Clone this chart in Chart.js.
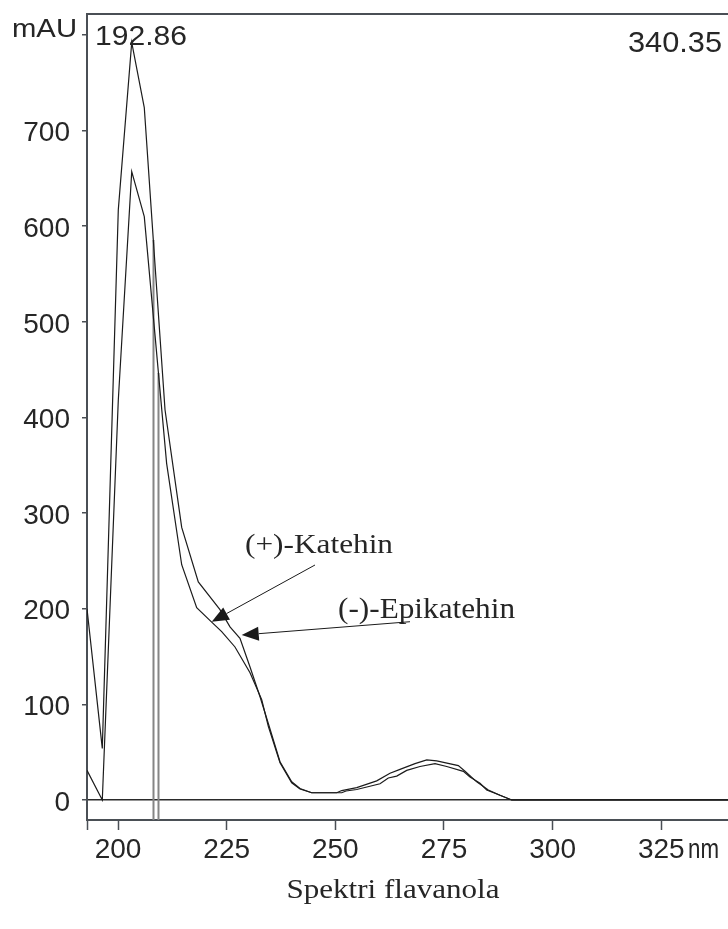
<!DOCTYPE html>
<html><head><meta charset="utf-8">
<script src="https://cdn.jsdelivr.net/npm/chart.js@4"></script>
<style>html,body{margin:0;padding:0;background:#fff;overflow:hidden}#wrap{width:728px;height:929px;position:relative}</style>
</head><body><div id="wrap"><canvas id="c" width="728" height="929"></canvas></div>
<script>
// ---- data ----
const epiNm  = [192.86,196.38,200.06,203.15,206.04,208.11,210.81,214.65,218.47,223.46,225.76,228.06,230.37,232.67,234.58,237.27,239.96,241.87,244.56,250.32,251.47,254.92,259.52,262.58,264.88,268.33,271.03,273.33,278.30,279.84,282.53,285.20,287.89,290.58,340.35];
const epiVal = [200,54,617,792,724,586,408,285,228,199,181,169,139,108,80,40,19,12,7.6,7.6,9.9,13,20,28,32,38,42,41,36,30,19,10.5,5,0,0];
const katNm  = [192.86,196.38,200.06,203.15,206.04,211.18,214.65,218.10,221.55,223.85,226.91,230.37,233.06,234.58,237.27,239.96,241.87,244.56,251.47,252.46,254.92,260.28,262.19,264.12,266.42,269.48,272.94,275.63,279.45,280.99,283.29,284.83,287.89,290.58,340.35];
const katVal = [31,0,418,657,610,352,246,201,186,176,160,133,105,77,39,18,11.5,7.6,7.6,9.4,11,17,23,25,31,35,38,35,30,24,17.5,10.5,5,0,0];
const markerNm  = [208.16, 209.31];
const markerTop = [585.5, 446.5];
const xTicks = [192.86,200,225,250,275,300,325];
const yTicks = [0,100,200,300,400,500,600,700,800];
const xRange = [192.86, 340.35];
const yRange = [-20.9, 821.8];
const xUnit = 'nm', yUnit = 'mAU';
const title = 'Spektri flavanola';
const seriesNames = ['(-)-Epikatehin','(+)-Katehin'];

const zip = (xs, ys) => xs.map((x, i) => ({x, y: ys[i]}));
const AX = '#4a4f55', TXT = '#262626';

function stretchText(ctx, text, font, x, y, align, targetW) {
  ctx.font = font;
  const w = ctx.measureText(text).width;
  const sx = targetW ? targetW / w : 1;
  ctx.save();
  ctx.translate(x, y);
  ctx.scale(sx, 1);
  ctx.textAlign = 'left';
  ctx.textBaseline = 'alphabetic';
  ctx.fillStyle = TXT;
  const x0 = align === 'right' ? -w : (align === 'center' ? -w / 2 : 0);
  ctx.fillText(text, x0, 0);
  ctx.restore();
}
function arrow(ctx, x1, y1, x2, y2) {
  const dx = x2 - x1, dy = y2 - y1, L = Math.hypot(dx, dy);
  const ux = dx / L, uy = dy / L, hl = 17, hw = 7;
  const bx = x2 - ux * hl, by = y2 - uy * hl;
  ctx.save();
  ctx.strokeStyle = '#1a1a1a'; ctx.fillStyle = '#1a1a1a'; ctx.lineWidth = 1;
  ctx.beginPath(); ctx.moveTo(x1, y1); ctx.lineTo(bx, by); ctx.stroke();
  ctx.beginPath(); ctx.moveTo(x2, y2);
  ctx.lineTo(bx - uy * hw, by + ux * hw);
  ctx.lineTo(bx + uy * hw, by - ux * hw);
  ctx.closePath(); ctx.fill();
  ctx.restore();
}

const decor = {
  id: 'decor',
  afterDraw(chart) {
    const {ctx, chartArea: a, scales: {x, y}} = chart;
    ctx.save();
    ctx.strokeStyle = AX; ctx.lineWidth = 2;
    ctx.beginPath(); ctx.moveTo(a.left - 1, a.top); ctx.lineTo(a.right, a.top); ctx.stroke();
    ctx.restore();
    stretchText(ctx, yUnit, '26px "Liberation Sans", Arial, sans-serif', 12, 37, 'left', 65);
    stretchText(ctx, xRange[0].toFixed(2), '28px "Liberation Sans", Arial, sans-serif', a.left + 8, 45, 'left', 92);
    stretchText(ctx, xRange[1].toFixed(2), '29px "Liberation Sans", Arial, sans-serif', 628, 52, 'left', 94);
    stretchText(ctx, xUnit, '28px "Liberation Sans", Arial, sans-serif', 688, 858, 'left', 31);
    stretchText(ctx, title, '27px "Liberation Serif", "Times New Roman", serif', 393, 898, 'center', 213);
    // annotations anchored in data coordinates
    const kx = x.getPixelForValue(229.22), ky = y.getPixelForValue(258.3);
    stretchText(ctx, seriesNames[1], '28px "Liberation Serif", "Times New Roman", serif', kx, ky, 'left', 148);
    const ex = x.getPixelForValue(250.62), ey = y.getPixelForValue(190.3);
    stretchText(ctx, seriesNames[0], '29px "Liberation Serif", "Times New Roman", serif', ex, ey, 'left', 177);
    arrow(ctx, x.getPixelForValue(245.32), y.getPixelForValue(245.7), x.getPixelForValue(221.55), y.getPixelForValue(186.4));
    arrow(ctx, x.getPixelForValue(267.18), y.getPixelForValue(186.4), x.getPixelForValue(228.46), y.getPixelForValue(172.5));
  }
};

const lineDs = (label, data, color, w) => ({
  label, data, borderColor: color, borderWidth: w, pointRadius: 0, tension: 0, fill: false
});

new Chart(document.getElementById('c'), {
  type: 'line',
  data: {
    datasets: [
      lineDs(seriesNames[0], zip(epiNm, epiVal), '#1c1c1c', 1.2),
      lineDs(seriesNames[1], zip(katNm, katVal), '#1c1c1c', 1.2),
      lineDs('m1', [{x: markerNm[0], y: markerTop[0]}, {x: markerNm[0], y: yRange[0]}], '#858585', 2),
      lineDs('m2', [{x: markerNm[1], y: markerTop[1]}, {x: markerNm[1], y: yRange[0]}], '#858585', 2)
    ]
  },
  options: {
    responsive: false, animation: false, devicePixelRatio: 1,
    layout: {padding: {top: 14, left: 0, right: 0, bottom: 0}},
    plugins: {legend: {display: false}, tooltip: {enabled: false}, title: {display: false}},
    scales: {
      x: {
        type: 'linear', min: xRange[0], max: xRange[1],
        afterBuildTicks: s => { s.ticks = xTicks.map(v => ({value: v})); },
        afterFit: s => { s.height = 109; s.paddingLeft = 0; s.paddingRight = 0; },
        border: {display: true, color: AX, width: 2},
        grid: {drawOnChartArea: false, drawTicks: true, tickLength: 10, tickColor: AX, tickWidth: 1.5},
        ticks: {
          padding: 3, color: TXT, maxRotation: 0, autoSkip: false,
          font: {family: '"Liberation Sans", Arial, sans-serif', size: 28},
          callback: v => (v === xRange[0] ? '' : v)
        }
      },
      y: {
        type: 'linear', min: yRange[0], max: yRange[1],
        afterBuildTicks: s => { s.ticks = yTicks.map(v => ({value: v})); },
        afterFit: s => { s.width = 87; s.paddingTop = 0; s.paddingBottom = 0; },
        border: {display: true, color: AX, width: 2},
        grid: {
          drawOnChartArea: true, drawTicks: true, tickLength: 5, tickColor: AX, tickWidth: 1.5,
          color: c => (c.tick && c.tick.value === 0 ? '#2a2a2a' : 'rgba(0,0,0,0)'),
          lineWidth: 1.5
        },
        ticks: {
          padding: 12, labelOffset: 3, color: TXT, autoSkip: false,
          font: {family: '"Liberation Sans", Arial, sans-serif', size: 28},
          callback: v => (v === 800 ? '' : v)
        }
      }
    }
  },
  plugins: [decor]
});
</script></body></html>
